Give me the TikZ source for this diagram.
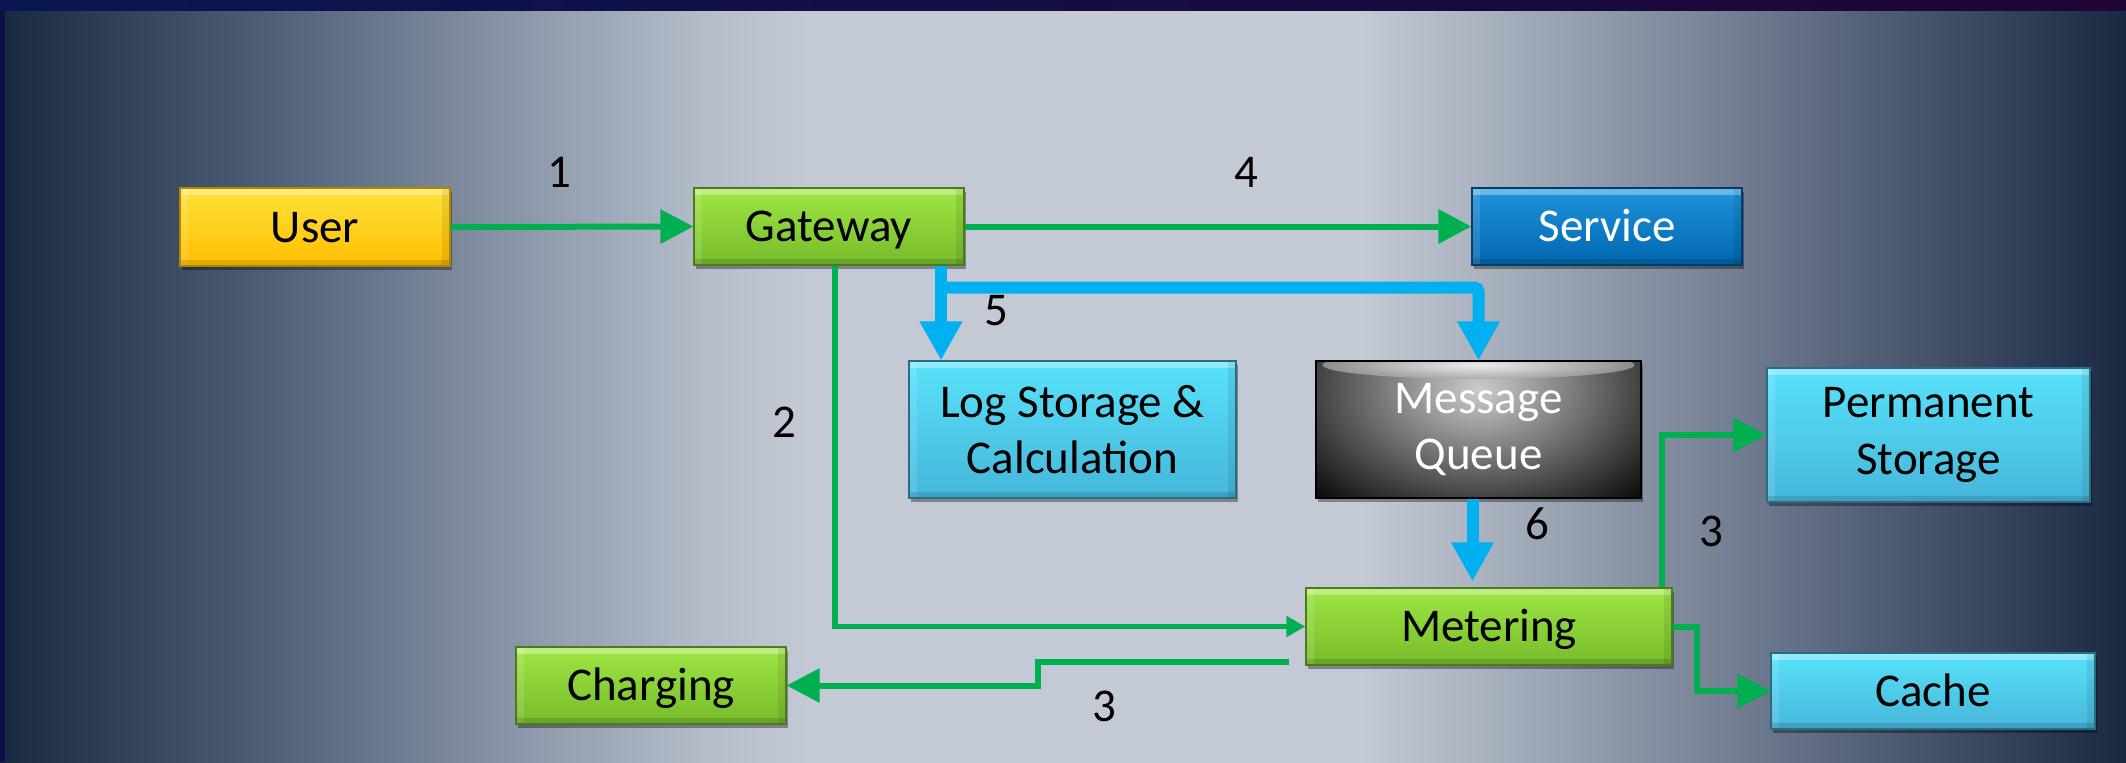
\documentclass[tikz,border=0pt]{standalone}
\usepackage{fontspec}
\setmainfont{Carlito}
\usetikzlibrary{arrows.meta,shadows,calc}

\definecolor{lnG}{HTML}{00B050}
\definecolor{lnB}{HTML}{00B0F0}
\definecolor{bg0}{HTML}{1A2942}
\definecolor{bg1}{HTML}{4F5F78}
\definecolor{bg2}{HTML}{8A96A8}
\definecolor{bg3}{HTML}{B4BCC9}
\definecolor{bg4}{HTML}{C3C9D5}
\definecolor{bg5}{HTML}{A9B1BF}
\definecolor{bg6}{HTML}{7A8598}
\definecolor{bg7}{HTML}{4C5A72}
\definecolor{stL}{HTML}{0A1650}
\definecolor{stR}{HTML}{200535}
\definecolor{stV}{HTML}{0E0E48}
\definecolor{usT}{HTML}{FFE23A}
\definecolor{usB}{HTML}{FFBE00}
\definecolor{grT}{HTML}{9EE642}
\definecolor{grB}{HTML}{76BC2C}
\definecolor{svT}{HTML}{1F94DC}
\definecolor{svB}{HTML}{0066AE}
\definecolor{cyT}{HTML}{58E2FA}
\definecolor{cyB}{HTML}{46B6DA}

\pgfdeclarehorizontalshading{bgsh}{100bp}{color(0bp)=(bg0); color(25bp)=(bg0); color(31.35bp)=(bg1); color(37.1bp)=(bg2); color(41.5bp)=(bg3); color(44bp)=(bg4); color(57bp)=(bg4); color(60bp)=(bg5); color(65bp)=(bg6); color(69.5bp)=(bg7); color(75bp)=(bg0); color(100bp)=(bg0)}

\tikzset{
  box/.style={rectangle, inner sep=0pt, align=center,
    font=\fontsize{23.5}{28.3}\selectfont,
    line width=0.6pt,
    drop shadow={shadow xshift=1.2pt, shadow yshift=-2.2pt, opacity=0.35, fill=black},
    path picture={
      \fill[white,opacity=0.35] (path picture bounding box.north west) rectangle ([yshift=-3.5pt]path picture bounding box.north east);
      \fill[white,opacity=0.12] (path picture bounding box.north west) rectangle ([xshift=4pt]path picture bounding box.south west);
      \fill[black,opacity=0.12] ([yshift=3pt]path picture bounding box.south west) rectangle (path picture bounding box.south east);
      \fill[black,opacity=0.08] ([xshift=-4pt]path picture bounding box.north east) rectangle (path picture bounding box.south east);
    }},
  oneline/.style={text height=15pt, text depth=0pt},
  userbox/.style={box, draw=usB!70!black, top color=usT, bottom color=usB},
  greenbox/.style={box, draw=grB!65!black, top color=grT, bottom color=grB},
  bluebox/.style={box, draw=svB!60!black, top color=svT, bottom color=svB, text=white},
  cyanbox/.style={box, draw=cyB!60!black, top color=cyT, bottom color=cyB},
  mqbox/.style={rectangle, inner sep=0pt, align=center,
    font=\fontsize{23.5}{28.3}\selectfont, text=white,
    draw=black, line width=0.6pt, fill=black,
    drop shadow={shadow xshift=1.2pt, shadow yshift=-2.2pt, opacity=0.35, fill=black},
    path picture={
      \shade[inner color=black!20, outer color=black] ([yshift=-14pt]path picture bounding box.north) ellipse (120pt and 80pt);
      \shade[inner color=white, outer color=black!35, opacity=0.75] ([yshift=-2pt]path picture bounding box.north) ellipse (78pt and 7pt);
    }},
  gline/.style={draw=lnG, line width=3pt, -{Triangle[length=16.5pt,width=16.5pt]}},
  gthin/.style={draw=lnG, line width=2.6pt, -{Triangle[length=9.5pt,width=10pt]}},
  bline/.style={draw=lnB, line width=6pt, -{Triangle[length=19.5pt,width=20pt]}},
  lab/.style={font=\fontsize{23.5}{28}\selectfont, text=black, inner sep=0pt}
}

\begin{document}
\begin{tikzpicture}[x=0.5pt,y=-0.5pt]
\useasboundingbox (0,0) rectangle (2126,762);
\shade[shading=bgsh] (0,0) rectangle (2126,762);
\shade[left color=stL, right color=stR] (0,0) rectangle (2126,10);
\fill[stV] (0,10) rectangle (5,762);

% nodes
\node[userbox,  oneline, minimum width=135pt,   minimum height=39pt]   (usr) at (315,227)    {User};
\node[greenbox, oneline, minimum width=135pt,   minimum height=38.5pt] (gw)  at (829,226.5)  {Gateway};
\node[bluebox,  oneline, minimum width=135pt,   minimum height=38.5pt] (svc) at (1607,226.5) {Service};
\node[cyanbox,  minimum width=163.5pt, minimum height=68.5pt] (log) at (1072.5,429.5) {Log Storage \&\\Calculation};
\node[mqbox,    minimum width=162.5pt, minimum height=68.5pt] (mq)  at (1478.5,429.5) {Message\\Queue};
\node[cyanbox,  minimum width=161.5pt, minimum height=67pt]   (prm) at (1928.5,435) {Permanent\\Storage};
\node[greenbox, oneline, minimum width=183pt,   minimum height=38.5pt] (met) at (1489,626.5) {Metering};
\node[greenbox, oneline, minimum width=135pt,   minimum height=38.5pt] (chg) at (651,685.5)  {Charging};
\node[cyanbox,  oneline, minimum width=162pt,   minimum height=38pt]   (cch) at (1933,691)   {Cache};

% connectors
\draw[gline] (usr.east) -- (gw.west);
\draw[gline] (gw.east) -- (svc.west);
\draw[gthin] ([xshift=3pt]gw.south) |- (met.west);

\coordinate (g5) at ([xshift=56pt]gw.south);
\coordinate (b5) at ([xshift=56pt,yshift=-11pt]gw.south);
\draw[bline] (g5) -- (g5 |- log.north);
\draw[bline, rounded corners=2pt] ([xshift=-3pt]b5) -| (mq.north);
\coordinate (q6) at ([xshift=-3pt]mq.south);
\draw[bline] (q6) -- ([yshift=3pt]q6 |- met.north);

\draw[gline] ([xshift=86.5pt]met.north) |- (prm.west);
\draw[gline] (met.east) -- ++(24.5,0) |- (cch.west);
\coordinate (m3) at ([xshift=-8pt,yshift=2pt]met.south west);
\draw[gline] (m3) -- ++(-251,0) |- (chg.east);

% labels
\node[lab] (l1) at (559,172) {1};
\node[lab] (l4) at (1246,172) {4};
\node[lab] (l2) at (784,422) {2};
\node[lab] (l5) at (996,311) {5};
\node[lab] (l6) at (1537,524) {6};
\node[lab] (l3a) at (1711,531) {3};
\node[lab] (l3b) at (1104,706) {3};
\end{tikzpicture}
\end{document}
